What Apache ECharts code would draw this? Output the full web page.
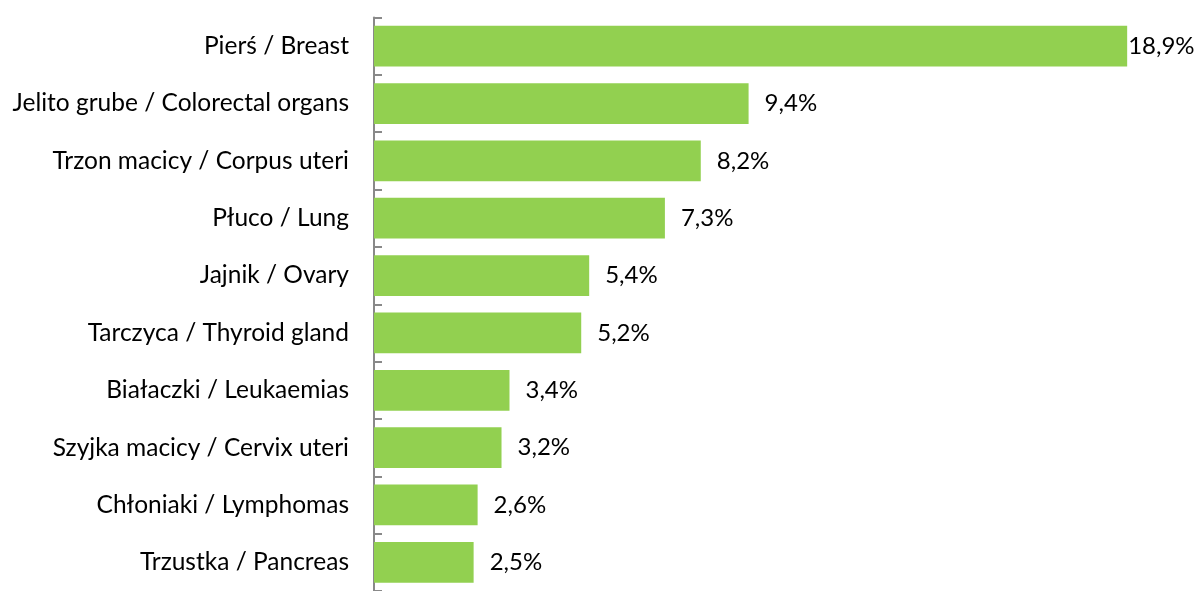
<!DOCTYPE html>
<html>
<head>
<meta charset="utf-8">
<script src="https://cdn.jsdelivr.net/npm/echarts@6/dist/echarts.min.js"></script>
<style>
html, body { margin: 0; padding: 0; background: #fff; }
#main { width: 1196px; height: 591px; }
</style>
</head>
<body>
<div id="main"></div>
<script>
// categories top to bottom
var categories = ['Pierś / Breast', 'Jelito grube / Colorectal organs', 'Trzon macicy / Corpus uteri',
    'Płuco / Lung', 'Jajnik / Ovary', 'Tarczyca / Thyroid gland', 'Białaczki / Leukaemias',
    'Szyjka macicy / Cervix uteri', 'Chłoniaki / Lymphomas', 'Trzustka / Pancreas'];
var values = [18.9, 9.4, 8.2, 7.3, 5.4, 5.2, 3.4, 3.2, 2.6, 2.5];

var chart = echarts.init(document.getElementById('main'));
var option = {
    backgroundColor: '#FFFFFF',
    animation: false,
    grid: {
        left: 374,
        right: 25,
        top: 17.5,
        height: 583
    },
    xAxis: {
        type: 'value',
        min: 0,
        max: 20,
        show: false
    },
    yAxis: {
        type: 'category',
        inverse: true,
        data: categories,
        axisLine: { show: true, lineStyle: { color: '#898989', width: 2 } },
        axisTick: {
            show: true,
            inside: true,
            interval: 0,
            length: 8,
            lineStyle: { color: '#898989', width: 2 }
        },
        axisLabel: {
            margin: 25,
            interval: 0,
            color: '#000',
            fontSize: 24.5,
            fontFamily: 'Lato'
        }
    },
    series: [{
        type: 'bar',
        barCategoryGap: '29%',
        itemStyle: { color: '#92D050' },
        label: {
            show: true,
            position: 'right',
            distance: 16,
            color: '#000',
            fontSize: 24,
            fontFamily: 'Lato',
            formatter: function (p) { return p.value.toFixed(1).replace('.', ',') + '%'; }
        },
        data: values.map(function (v, i) {
            return i === 0 ? { value: v, label: { distance: 1 } } : v;
        })
    }]
};
chart.setOption(option);
</script>
</body>
</html>
